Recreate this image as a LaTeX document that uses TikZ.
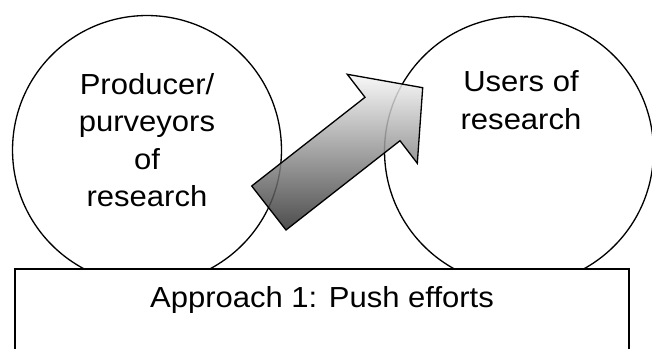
\documentclass[tikz,border=0pt]{standalone}
\usepackage{fontspec}
\setmainfont[FakeStretch=1.07]{Liberation Sans}
\begin{document}
\begin{tikzpicture}
	[x=0.02cm,y=-0.02cm,
	circ/.style={circle,minimum size=5.38cm,inner sep=0in,draw=black,line width=0.75pt},
	txt/.style={align=center,inner sep=0in,font=\fontsize{16.5}{21.3}\selectfont},
	push/.style={draw=black,line width=0.75pt,fill opacity=0.85,top color=black!3,bottom color=black!82}]
	\useasboundingbox (0,0) rectangle (652,348);
	\node[circ] (producer) at (147,150) {};
	\node[circ] (users) at (519,151) {};
	\node[txt] (producertext) at (147,140) {Producer/\\purveyors\\of\\research};
	\node[txt] (userstext) at (521,100) {Users of\\research};
	% block arrow
	\path[push] (251.7,186) -- (286,230) -- (400,140.7) -- (417.3,163.3) -- (422.7,87.7) -- (347.3,74.3) -- (365,97.3) -- cycle;
	\draw[line width=0.75pt,fill=white] (15,269) rectangle (629,362);
	\node[txt] (approach) at (322,299.7) {Approach 1: Push efforts};
\end{tikzpicture}
\end{document}
